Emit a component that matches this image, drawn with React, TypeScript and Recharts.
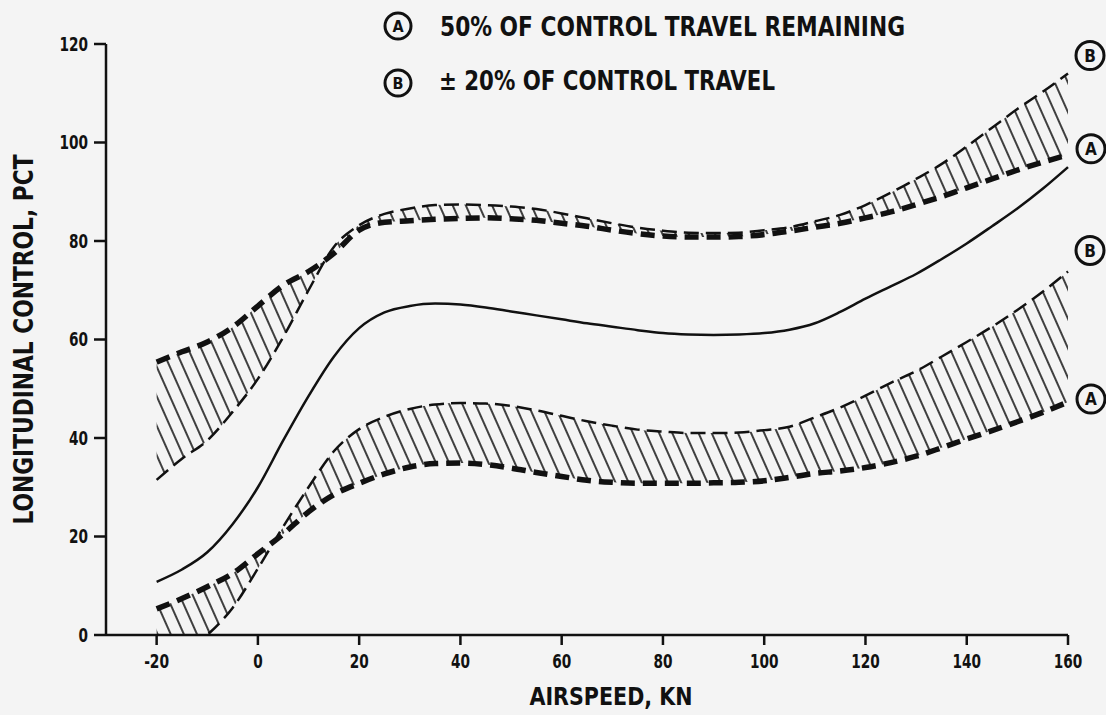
import React from "react";
import { ComposedChart, Line, Area, XAxis, YAxis, ReferenceDot } from "recharts";

// airspeed stations, kn
const airspeed = [
  -20, -15, -10, -5, 0, 5, 10, 15, 20, 25, 30, 35, 40, 45, 50, 55, 60, 65, 70,
  75, 80, 85, 90, 95, 100, 105, 110, 115, 120, 125, 130, 135, 140, 145, 150, 155, 160,
];

// solid trim line, pct
const nominal = [
  10.8, 13.3, 16.8, 22.5, 30, 39.5, 48.5, 56.5, 62.3, 65.5, 66.8, 67.3, 67.1, 66.5,
  65.7, 64.9, 64.1, 63.3, 62.6, 61.9, 61.3, 61, 60.9, 61, 61.3, 62, 63.3, 65.6, 68.3,
  70.8, 73.3, 76.3, 79.5, 83, 86.6, 90.6, 95,
];

// (A) 50% of control travel remaining, upper / lower
const upperA = [
  55.4, 57.5, 59.5, 62.5, 66.8, 71, 73.8, 77.5, 82.2, 83.8, 84.1, 84.4, 84.6, 84.7,
  84.5, 84.2, 83.6, 83, 82.2, 81.5, 81, 80.8, 80.8, 80.9, 81.3, 82, 82.8, 83.6, 84.7,
  85.9, 87.4, 89, 90.8, 92.6, 94.4, 96, 97.5,
];
const lowerA = [
  5.3, 7.4, 9.8, 12.5, 16.5, 20.5, 25, 28.5, 30.8, 32.7, 34.1, 34.8, 34.9, 34.6, 33.9,
  33, 32.2, 31.4, 31, 30.8, 30.8, 30.8, 30.9, 31, 31.3, 32, 32.8, 33.3, 34, 35, 36.3,
  38, 39.8, 41.5, 43.3, 45.2, 47.3,
];

// (B) +/- 20% of control travel, upper / lower
const upperB = [
  31.5, 35.8, 39.5, 45.3, 52, 60.5, 70, 78.8, 83.2, 85.5, 86.6, 87.3, 87.4, 87.3, 87,
  86.5, 85.6, 84.6, 83.6, 82.7, 82.1, 81.7, 81.6, 81.7, 82.2, 82.8, 84, 85.3, 87.3,
  89.8, 92.6, 95.6, 99.2, 103, 106.8, 110.3, 114,
];
const lowerB = [
  -8, -4, 0, 5.5, 13.5, 22, 30, 37.3, 41.8, 44.3, 45.9, 46.8, 47.1, 47, 46.5, 45.6,
  44.5, 43.4, 42.5, 41.7, 41.3, 41, 41, 41.1, 41.6, 42.3, 44.2, 46.2, 48.6, 51.2,
  53.6, 56.5, 59.5, 62.6, 66, 69.7, 73.8,
];

const xTicks = [-20, 0, 20, 40, 60, 80, 100, 120, 140, 160];
const yTicks = [0, 20, 40, 60, 80, 100, 120];

const legendA = "50% OF CONTROL TRAVEL REMAINING";
const legendB = "\u00B1 20% OF CONTROL TRAVEL";

const FONT = "'DejaVu Sans Condensed', 'Liberation Sans Narrow', 'DejaVu Sans', sans-serif";
const INK = "#111";
const PAPER = "#f4f4f4";

const last = airspeed.length - 1;

const chartData = airspeed.map((x, i) => ({
  x,
  nominal: nominal[i],
  upperA: upperA[i],
  upperB: upperB[i],
  lowerA: lowerA[i],
  lowerB: lowerB[i],
  upperBand: [upperB[i], upperA[i]],
  lowerBand: [lowerB[i], lowerA[i]],
}));

const Tag = ({ cx, cy, letter, r = 14 }: { cx: number; cy: number; letter: string; r?: number }) => (
  <g>
    <circle cx={cx} cy={cy} r={r} fill={PAPER} stroke={INK} strokeWidth={3} />
    <text
      x={cx}
      y={cy}
      dy="0.36em"
      textAnchor="middle"
      fontFamily={FONT}
      fontWeight="bold"
      fontSize={r + 3}
      fill={INK}
    >
      {letter}
    </text>
  </g>
);

const tagShape = (letter: string, dx: number, dy: number) => (p: any) =>
  <Tag cx={p.cx + dx} cy={p.cy + dy} letter={letter} />;

// narrow bold digits like the original lettering
const labelWidth = (s: string) =>
  s.split("").reduce((w, c) => w + (c === "-" ? 6 : 9.5), 0);

const XTick = (p: any) => {
  const s = String(p.payload.value);
  return (
    <text
      x={p.x}
      y={p.y}
      dy="0.71em"
      textAnchor="middle"
      fontFamily={FONT}
      fontWeight="bold"
      fontSize={19}
      fill={INK}
      textLength={labelWidth(s)}
      lengthAdjust="spacingAndGlyphs"
    >
      {s}
    </text>
  );
};

const YTick = (p: any) => {
  const s = String(p.payload.value);
  return (
    <text
      x={p.x}
      y={p.y}
      dy="0.36em"
      textAnchor="end"
      fontFamily={FONT}
      fontWeight="bold"
      fontSize={19}
      fill={INK}
      textLength={labelWidth(s)}
      lengthAdjust="spacingAndGlyphs"
    >
      {s}
    </text>
  );
};

export default function App() {
  return (
    <div style={{ position: "absolute", left: 0, top: 0, width: 1106, height: 715, background: PAPER }}>
      <ComposedChart
        width={1106}
        height={715}
        data={chartData}
        margin={{ top: 44, right: 38, bottom: 0, left: 0 }}
      >
        <defs>
          <pattern
            id="hatch"
            width="12"
            height="12"
            patternUnits="userSpaceOnUse"
            patternTransform="rotate(-24)"
          >
            <line x1="6" y1="-2" x2="6" y2="14" stroke={INK} strokeWidth={1.6} />
          </pattern>
        </defs>
        <XAxis
          dataKey="x"
          type="number"
          domain={[-30, 160]}
          ticks={xTicks}
          tickSize={10}
          tickMargin={10}
          height={80}
          axisLine={{ stroke: INK, strokeWidth: 2.5 }}
          tickLine={{ stroke: INK, strokeWidth: 2.5 }}
          tick={<XTick />}
          label={{
            content: (p: any) => {
              const vb = p.viewBox;
              return (
                <text
                  x={vb.x + vb.width / 2 + 24}
                  y={vb.y + 70}
                  textAnchor="middle"
                  fontFamily={FONT}
                  fontWeight="bold"
                  fontSize={25}
                  fill={INK}
                  textLength={163}
                  lengthAdjust="spacingAndGlyphs"
                >
                  AIRSPEED, KN
                </text>
              );
            },
          }}
        />
        <YAxis
          type="number"
          domain={[0, 120]}
          ticks={yTicks}
          allowDataOverflow
          width={106}
          tickSize={12}
          tickMargin={6}
          axisLine={{ stroke: INK, strokeWidth: 2.5 }}
          tickLine={{ stroke: INK, strokeWidth: 2.5 }}
          tick={<YTick />}
          label={{
            content: (p: any) => {
              const vb = p.viewBox;
              const cx = 23;
              const cy = vb.y + vb.height / 2;
              return (
                <text
                  x={cx}
                  y={cy}
                  dy="0.36em"
                  transform={`rotate(-90, ${cx}, ${cy})`}
                  textAnchor="middle"
                  fontFamily={FONT}
                  fontWeight="bold"
                  fontSize={27}
                  fill={INK}
                  textLength={370}
                  lengthAdjust="spacingAndGlyphs"
                >
                  LONGITUDINAL CONTROL, PCT
                </text>
              );
            },
          }}
        />

        <Area
          dataKey="upperBand"
          type="monotone"
          stroke="none"
          fill="url(#hatch)"
          fillOpacity={1}
          isAnimationActive={false}
        />
        <Area
          dataKey="lowerBand"
          type="monotone"
          stroke="none"
          fill="url(#hatch)"
          fillOpacity={1}
          isAnimationActive={false}
        />

        <Line
          dataKey="upperB"
          type="monotone"
          stroke={INK}
          strokeWidth={2.5}
          strokeDasharray="15 7"
          dot={false}
          isAnimationActive={false}
        />
        <Line
          dataKey="lowerB"
          type="monotone"
          stroke={INK}
          strokeWidth={2.5}
          strokeDasharray="15 7"
          dot={false}
          isAnimationActive={false}
        />
        <Line
          dataKey="upperA"
          type="monotone"
          stroke={INK}
          strokeWidth={5.5}
          strokeDasharray="14 8"
          dot={false}
          isAnimationActive={false}
        />
        <Line
          dataKey="lowerA"
          type="monotone"
          stroke={INK}
          strokeWidth={5.5}
          strokeDasharray="14 8"
          dot={false}
          isAnimationActive={false}
        />
        <Line
          dataKey="nominal"
          type="monotone"
          stroke={INK}
          strokeWidth={2.5}
          dot={false}
          isAnimationActive={false}
        />

        <ReferenceDot x={airspeed[last]} y={upperB[last]} ifOverflow="visible" shape={tagShape("B", 22, -18)} />
        <ReferenceDot x={airspeed[last]} y={upperA[last]} ifOverflow="visible" shape={tagShape("A", 23, -6)} />
        <ReferenceDot x={airspeed[last]} y={lowerB[last]} ifOverflow="visible" shape={tagShape("B", 22, -21)} />
        <ReferenceDot x={airspeed[last]} y={lowerA[last]} ifOverflow="visible" shape={tagShape("A", 23, -3)} />
      </ComposedChart>

      <svg width={1106} height={110} style={{ position: "absolute", left: 0, top: 0 }}>
        <Tag cx={398} cy={26} letter="A" r={13} />
        <text
          x={440}
          y={36}
          fontFamily={FONT}
          fontWeight="bold"
          fontSize={27}
          fill={INK}
          textLength={465}
          lengthAdjust="spacingAndGlyphs"
        >
          {legendA}
        </text>
        <Tag cx={398} cy={83} letter="B" r={13} />
        <text
          x={439}
          y={90}
          fontFamily={FONT}
          fontWeight="bold"
          fontSize={27}
          fill={INK}
          textLength={336}
          lengthAdjust="spacingAndGlyphs"
        >
          {legendB}
        </text>
      </svg>
    </div>
  );
}
